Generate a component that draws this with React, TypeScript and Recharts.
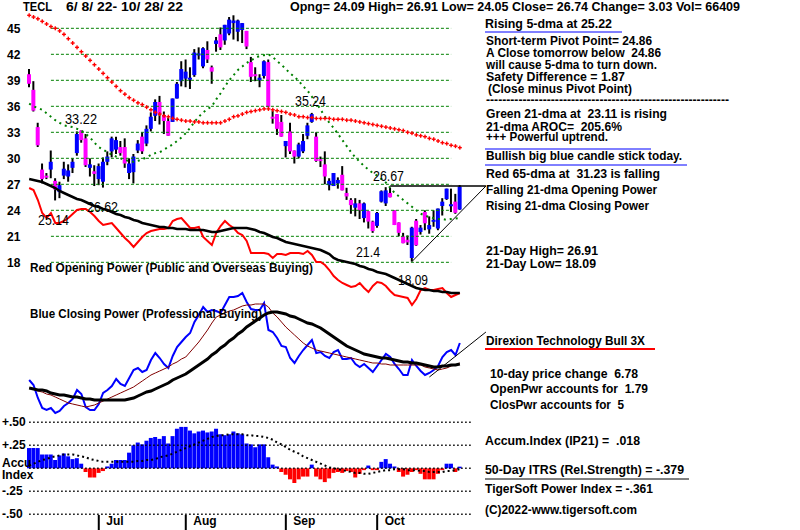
import React from 'react';
import { ComposedChart, Bar, Line, XAxis, YAxis, ReferenceLine, Cell } from 'recharts';

const FONT = '"Liberation Sans", Arial, Helvetica, sans-serif';

// ---------- data ----------
const OPEN = [39.7,37.9,33.6,28.7,28.0,28.7,27.4,26.1,28.0,27.9,
28.9,30.6,33.2,32.3,28.9,28.5,27.6,27.3,29.6,30.8,
31.0,31.3,31.3,28.3,28.4,30.9,32.5,31.7,33.4,34.9,
36.5,35.0,34.3,34.2,36.9,38.9,39.2,39.1,39.6,41.9,
40.6,42.5,40.5,43.2,44.3,43.6,44.4,45.6,44.6,44.8,
44.7,41.1,39.7,39.0,39.5,41.1,34.8,35.1,34.2,31.4,
33.1,30.9,30.2,30.8,32.6,34.2,32.5,29.9,29.3,26.9,
26.8,27.1,28.1,26.0,25.2,24.3,24.8,23.1,23.9,22.7,
22.2,25.0,24.8,26.0,24.0,22.6,21.0,20.6,18.5,22.8,
21.5,23.8,21.8,22.8,21.9,24.5,25.3,24.5,25.0,24.09];
const HIGH = [40.3,38.9,34.1,29.4,28.3,30.9,27.7,27.3,29.6,29.3,
30.0,33.1,33.22,32.8,30.0,29.2,29.4,30.1,30.8,32.5,
32.5,32.0,32.3,30.0,30.5,32.1,33.0,33.8,35.3,36.8,
37.2,35.4,34.7,36.9,38.8,41.2,41.4,40.5,42.6,42.8,
42.8,43.5,40.7,44.0,45.1,45.4,46.3,46.5,46.0,45.6,
44.7,41.7,40.5,39.7,41.3,41.4,35.5,35.1,35.0,32.0,
34.1,30.9,31.8,32.8,34.1,35.24,33.0,30.2,30.8,27.7,
28.3,27.8,29.1,26.6,25.4,25.4,25.2,24.9,23.9,22.8,
23.8,26.3,26.67,26.6,24.0,22.6,21.4,21.1,22.1,23.0,
22.3,24.0,23.3,24.0,24.2,25.4,26.5,26.5,25.9,26.91];
const LOW = [38.2,35.4,31.3,27.1,27.6,27.7,25.14,25.4,27.6,27.3,
28.3,30.3,31.8,29.0,27.9,26.8,26.9,26.62,29.2,30.1,
30.5,30.3,28.9,27.6,27.1,30.6,30.5,31.4,33.1,34.3,
33.9,32.8,32.6,34.2,36.9,38.3,38.2,38.0,39.4,41.4,
40.4,41.0,38.6,42.3,42.5,43.1,44.2,43.7,43.5,43.3,
42.6,38.8,38.9,38.2,39.2,35.9,34.0,32.7,32.5,30.1,
30.5,29.4,30.0,30.6,32.2,34.1,29.6,29.0,27.0,26.3,
26.8,26.5,26.3,25.2,23.6,23.3,23.0,22.6,21.9,21.4,
22.0,24.9,24.5,25.5,22.3,21.0,20.2,20.0,18.09,19.9,
21.2,21.7,21.3,22.1,21.7,23.4,25.2,23.8,23.6,24.05];
const CLOSE = [38.6,35.5,31.5,27.6,27.8,29.6,26.4,26.9,28.8,28.6,
29.6,32.8,32.1,29.2,29.3,28.2,29.1,29.6,30.2,32.3,
32.1,30.6,29.4,29.4,30.2,31.7,30.8,33.4,34.8,36.5,
35.1,34.3,32.6,36.9,38.6,40.3,40.0,39.3,42.2,42.1,
42.7,41.4,40.0,43.6,42.8,45.4,46.0,45.9,45.9,45.6,
42.9,39.4,39.5,39.3,41.2,35.9,34.6,33.4,32.5,32.0,
30.8,30.2,31.6,32.0,33.8,35.1,29.7,29.7,27.9,27.4,
28.3,27.5,26.3,25.6,24.6,24.8,24.0,24.8,22.7,21.6,
23.7,26.2,26.3,25.5,22.3,21.4,20.2,20.3,22.0,19.96,
22.0,22.5,22.3,22.9,24.2,25.0,26.5,24.7,23.71,26.74];
const MA65 = [46.5,46.3,46.1,45.8,45.5,45.2,45.0,44.7,44.3,43.8,
43.3,42.8,42.3,41.8,41.3,40.8,40.3,39.8,39.3,38.8,
38.3,37.8,37.4,37.0,36.7,36.4,36.2,35.9,35.6,35.3,
35.1,34.9,34.8,34.6,34.5,34.4,34.3,34.3,34.2,34.2,
34.1,34.1,34.1,34.1,34.1,34.3,34.5,34.8,34.9,35.1,
35.3,35.4,35.5,35.6,35.7,35.7,35.6,35.5,35.4,35.3,
35.1,35.0,34.8,34.8,34.7,34.7,34.6,34.6,34.6,34.6,
34.5,34.5,34.5,34.4,34.4,34.3,34.2,34.1,34.0,33.9,
33.8,33.7,33.6,33.5,33.4,33.3,33.2,33.0,32.9,32.7,
32.6,32.5,32.3,32.2,32.0,31.8,31.7,31.5,31.4,31.23];
const MA21 = [36.3,36.0,35.8,35.6,35.2,34.8,34.4,34.1,33.8,33.7,
33.6,33.4,33.2,32.8,32.4,31.8,31.3,31.0,30.7,30.4,
30.2,30.0,29.8,29.7,29.6,29.7,29.9,30.1,30.4,30.6,
30.7,31.0,31.3,31.6,32.0,32.4,32.9,33.5,34.2,34.8,
35.3,35.7,36.0,36.8,37.5,38.3,39.0,39.6,40.2,40.6,
41.0,41.3,41.6,41.8,41.9,42.0,41.7,41.2,40.8,40.3,
39.8,39.4,38.9,38.3,37.8,37.1,36.4,35.6,34.8,34.1,
33.5,32.8,32.1,31.4,30.7,30.1,29.6,29.1,28.7,28.3,
28.0,27.6,27.2,26.6,26.0,25.6,25.2,24.8,24.4,24.0,
23.6,23.4,23.2,23.1,23.0,23.0,22.9,23.0,23.05,23.11];
const OPEN_POWER = [212,210,200,187,182,187,177,177,179,182,
186,190,191,191,188,184,179,175,176,177,
172,167,162,158,153,158,163,167,169,170,
171,171,172,179,181,182,177,172,172,173,
163,159,155,167,174,179,175,172,167,165,
159,147,147,147,147,146,142,146,146,145,
147,147,147,146,149,145,138,138,135,130,
124,120,117,115,113,114,117,112,108,114,
118,117,114,109,105,104,103,102,95,101,
110,112,110,110,111,112,107,103,105,107];
const OPEN_POWER_MA = [221,220,219,218,216,214,212,209,207,205,
203,201,200,198,196,194,193,191,190,188,
186,185,183,182,180,179,177,176,175,174,
173,173,172,172,171,171,171,170,170,170,
170,169,168,168,169,170,171,172,172,172,
172,171,170,168,167,165,163,162,160,158,
157,156,155,154,153,152,151,150,148,146,
142,140,139,138,137,136,134,133,131,130,
128,127,126,124,122,120,118,116,114,112,
111,110,110,109,109,108,108,107,107,107];
const CLOSE_POWER = [20,15,2,-8,-10,-8,-13,-11,-6,-3,
1,10,6,-7,-10,-10,-4,7,10,14,
21,16,14,22,30,32,28,30,40,47,
42,36,32,44,53,58,63,67,78,85,
93,88,90,89,87,95,103,103,104,107,
98,91,90,90,97,70,68,62,54,53,
42,37,44,50,55,60,47,48,44,42,
48,50,41,41,42,36,33,36,32,28,
34,40,46,43,36,31,25,25,40,34,
29,25,27,30,34,43,48,50,45,57];
const CLOSE_POWER_FAST = [12,11,9,8,6,5,3,1,-1,-3,
-4,-5,-6,-7,-6,-5,-3,-1,1,3,
5,7,9,11,13,16,19,22,25,27,
29,31,33,36,38,41,43,48,53,58,
64,70,77,83,85,87,89,90,92,94,
95,95,96,96,96,93,87,83,78,73,
69,65,61,57,54,52,50,49,48,47,
46,45,44,43,42,41,40,39,38,37,
37,36,36,35,35,35,35,35,35,35,
35,33,32,31,30,31,32,34,35,37];
const CLOSE_POWER_SLOW = [12,11,10,10,9,7,6,5,5,4,
3,3,2,1,1,0,0,0,0,0,
0,0,0,1,2,4,6,8,9,11,
13,15,17,20,22,24,26,29,32,35,
38,41,45,48,52,55,59,62,66,69,
73,76,79,82,85,87,88,88,87,86,
84,83,81,79,77,76,74,72,69,66,
63,60,57,54,52,50,48,46,45,44,
43,42,42,41,40,39,38,38,37,37,
36,35,34,33,33,34,34,35,35,36];
const ACCUM = [0.22,0.22,0.22,0.15,0.15,0.15,0.09,0.14,0.16,0.13,
0.10,0.11,0.05,-0.04,-0.10,-0.10,-0.05,-0.03,0.02,0.05,
0.09,0.09,0.09,0.17,0.25,0.28,0.26,0.30,0.33,0.34,
0.32,0.35,0.27,0.35,0.43,0.45,0.45,0.41,0.38,0.40,
0.41,0.39,0.40,0.43,0.37,0.36,0.37,0.40,0.38,0.37,
0.27,0.26,0.23,0.26,0.26,0.12,0.04,0.02,-0.04,-0.07,
-0.12,-0.16,-0.12,-0.09,-0.09,0.04,-0.09,-0.12,-0.15,-0.11,
-0.05,-0.04,-0.05,-0.03,-0.04,-0.10,-0.06,-0.02,0.03,-0.02,
-0.02,0.07,0.10,0.05,0.02,-0.04,-0.09,-0.07,-0.04,-0.02,
-0.06,-0.12,-0.12,-0.12,-0.06,-0.02,0.05,0.05,-0.04,0.018];
const ACCUM_MA = [0.03,0.05,0.07,0.09,0.10,0.12,0.13,0.14,0.15,0.15,
0.15,0.14,0.13,0.12,0.10,0.09,0.08,0.07,0.07,0.07,
0.07,0.07,0.07,0.07,0.07,0.08,0.08,0.09,0.09,0.10,
0.12,0.13,0.14,0.16,0.18,0.20,0.22,0.24,0.26,0.28,
0.30,0.32,0.34,0.35,0.36,0.36,0.37,0.37,0.37,0.37,
0.36,0.36,0.35,0.35,0.34,0.33,0.31,0.28,0.26,0.23,
0.20,0.18,0.16,0.13,0.11,0.09,0.07,0.05,0.03,0.01,
0.00,-0.01,-0.02,-0.03,-0.04,-0.05,-0.05,-0.06,-0.06,-0.05,
-0.04,-0.03,-0.02,-0.02,-0.01,-0.01,-0.01,-0.02,-0.02,-0.02,
-0.03,-0.03,-0.04,-0.04,-0.04,-0.04,-0.03,-0.03,-0.02,-0.01];

const MONTH_TICKS = [16, 36, 59, 80];
const MONTH_LABELS = ['Jul', 'Aug', 'Sep', 'Oct'];
const PRICE_TICKS = [45, 42, 39, 36, 33, 30, 27, 24, 21, 18];
const ACCUM_TICKS = [0.5, 0.25, 0, -0.25, -0.5];
const ACCUM_TICK_LABELS = ['+.50', '+.25', 'Accu', '-.25', '-.50'];

const HEADER = [
  { t: 'TECL', x: 23, y: 11, w: 29 },
  { t: '6/ 8/ 22- 10/ 28/ 22', x: 66, y: 11, w: 117 },
  { t: 'Opng= 24.09 High= 26.91 Low= 24.05 Close= 26.74 Change= 3.03 Vol= 66409', x: 290, y: 11, w: 450 },
];
const PANEL_TEXT = [
  { t: 'Rising 5-dma at 25.22', x: 485, y: 28, w: 127 },
  { t: 'Short-term Pivot Point= 24.86', x: 486, y: 45, w: 166 },
  { t: 'A Close tomorrow below  24.86', x: 486, y: 57, w: 175 },
  { t: 'will cause 5-dma to turn down.', x: 486, y: 68.5, w: 171 },
  { t: 'Safety Difference = 1.87', x: 486, y: 80.5, w: 139 },
  { t: '(Close minus Pivot Point)', x: 488, y: 92.5, w: 144 },
  { t: '------------------------------------------------------------', x: 486, y: 104, w: 243 },
  { t: 'Green 21-dma at  23.11 is rising', x: 486, y: 118, w: 181 },
  { t: '21-dma AROC=  205.6%', x: 486, y: 130.5, w: 136 },
  { t: '+++ Powerful uptrend.', x: 486, y: 141, w: 122 },
  { t: 'Bullish big blue candle stick today.', x: 486, y: 159.5, w: 196 },
  { t: 'Red 65-dma at  31.23 is falling', x: 486, y: 178, w: 174 },
  { t: 'Falling 21-dma Opening Power', x: 486, y: 194, w: 171 },
  { t: 'Rising 21-dma Closing Power', x: 486, y: 209.5, w: 163 },
  { t: '21-Day High= 26.91', x: 486, y: 255, w: 112 },
  { t: '21-Day Low= 18.09', x: 486, y: 268, w: 110 },
  { t: 'Direxion Technology Bull 3X', x: 486, y: 344.5, w: 159 },
  { t: '10-day price change  6.78', x: 490, y: 377.5, w: 148 },
  { t: 'OpenPwr accounts for  1.79', x: 490, y: 392.5, w: 158 },
  { t: 'ClosPwr accounts for  5', x: 490, y: 408.5, w: 134 },
  { t: 'Accum.Index (IP21) =  .018', x: 485, y: 444.5, w: 155 },
  { t: '50-Day ITRS (Rel.Strength) = -.379', x: 485, y: 474, w: 199 },
  { t: 'TigerSoft Power Index = -.361', x: 485, y: 493, w: 168 },
  { t: '(C)2022-www.tigersoft.com', x: 485, y: 514, w: 152 },
  { t: 'Red Opening Power (Public and Overseas Buying)', x: 30, y: 272, w: 283 },
  { t: 'Blue Closing Power (Professional Buying)', x: 30, y: 318, w: 232 },
];
const ANNOTATIONS = [
  { t: '33.22', x: 65, y: 124, w: 32 },
  { t: '25.14', x: 38, y: 225, w: 31 },
  { t: '26.62', x: 87, y: 212, w: 31 },
  { t: '35.24', x: 295, y: 106, w: 31 },
  { t: '26.67', x: 373, y: 181, w: 31 },
  { t: '21.4', x: 356, y: 257, w: 24 },
  { t: '18.09', x: 398, y: 285, w: 30 },
];
const UNDERLINES = [
  { x1: 485, x2: 622, y: 32, c: '#0000ff', w: 1 },
  { x1: 485, x2: 651, y: 149, c: '#0000ff', w: 1 },
  { x1: 485, x2: 687, y: 165, c: '#0000ff', w: 1 },
  { x1: 485, x2: 655, y: 349, c: '#ff0000', w: 2 },
  { x1: 485, x2: 689, y: 479, c: '#000000', w: 1 },
];

// ---------- layout constants ----------
const N = 100;
const PAD = 6;
const W = 800;
const H = 530;
const PLOT_LEFT = 27;
const PLOT_W = (N + PAD) * 4.35;
const PRICE_DOMAIN = [45 - (515 - 28.3) / 8.667, 45 + 28.3 / 8.667];
const POWER_DOMAIN = [-115, 400];
const ACCUM_DOMAIN = [(468.3 - 515) / 92, 468.3 / 92];

const rows = Array.from({ length: N + PAD }, (_, i) =>
  i < N
    ? {
        i,
        o: OPEN[i], h: HIGH[i], l: LOW[i], c: CLOSE[i],
        ma65: MA65[i], ma21: MA21[i],
        op: OPEN_POWER[i], opMa: OPEN_POWER_MA[i],
        cp: CLOSE_POWER[i], cpFast: CLOSE_POWER_FAST[i], cpSlow: CLOSE_POWER_SLOW[i],
        ai: ACCUM[i], aiMa: ACCUM_MA[i],
      }
    : { i }
);

const Candle = (props: any) => {
  const { x, y, width, height, payload } = props;
  if (!payload || payload.h == null || height == null) return <g />;
  const { o, h, l, c } = payload;
  const ppu = h - l > 0 ? height / (h - l) : 0;
  const cx = x + width / 2;
  const yO = y + (h - o) * ppu;
  const yC = y + (h - c) * ppu;
  const top = Math.min(yO, yC);
  const bh = Math.max(Math.abs(yO - yC), 2);
  const color = c >= o ? '#0000ff' : '#ff00ff';
  return (
    <g>
      <line x1={cx} x2={cx} y1={y} y2={y + height} stroke="#000" strokeWidth={2} />
      <rect x={cx - 2} y={top} width={4} height={bh} fill={color} />
    </g>
  );
};

const crossDot = (p: any) => {
  if (p.cx == null || p.cy == null || p.value == null) return <g key={p.index} />;
  return (
    <g key={p.index}>
      <rect x={p.cx - 2} y={p.cy - 0.7} width={4} height={1.4} fill="#ff0000" />
      <rect x={p.cx - 0.7} y={p.cy - 2} width={1.4} height={4} fill="#ff0000" />
    </g>
  );
};

const PriceTick = (p: any) => (
  <text x={7} y={p.y + 5} fontSize={12} fontWeight="bold" fontFamily={FONT} fill="#000">
    {p.payload.value}
  </text>
);

const AccumTick = (p: any) => {
  const k = ACCUM_TICKS.indexOf(p.payload.value);
  if (p.payload.value === 0) {
    return (
      <g>
        <text x={2} y={p.y - 1} fontSize={12} fontWeight="bold" fontFamily={FONT} fill="#000">{ACCUM_TICK_LABELS[k]}</text>
        <text x={2} y={p.y + 11} fontSize={12} fontWeight="bold" fontFamily={FONT} fill="#000">Index</text>
      </g>
    );
  }
  return (
    <text x={2} y={p.y + 4} fontSize={12} fontWeight="bold" fontFamily={FONT} fill="#000">
      {ACCUM_TICK_LABELS[k]}
    </text>
  );
};

const MonthTick = (p: any) => {
  const k = MONTH_TICKS.indexOf(p.payload.value);
  return (
    <g>
      <line x1={p.x} x2={p.x} y1={515} y2={530} stroke="#000" strokeWidth={2} />
      <text x={p.x + 7.5} y={525} fontSize={12} fontWeight="bold" fontFamily={FONT} fill="#000">
        {MONTH_LABELS[k]}
      </text>
    </g>
  );
};

const Txt = ({ t, x, y, w, size = 12, weight = 'bold' }: any) => (
  <text x={x} y={y} fontSize={size} fontWeight={weight} fontFamily={FONT} fill="#000"
    textLength={w} lengthAdjust="spacingAndGlyphs" style={{ whiteSpace: 'pre' }}>
    {t}
  </text>
);

export default function App() {
  return (
    <div style={{ position: 'absolute', left: 0, top: 0, width: W, height: H, background: '#fff', overflow: 'hidden' }}>
      <ComposedChart
        width={W}
        height={H}
        data={rows}
        margin={{ top: 0, right: W - PLOT_LEFT - PLOT_W, bottom: 0, left: PLOT_LEFT }}
      >
        <XAxis xAxisId="x" dataKey="i" type="category" ticks={MONTH_TICKS} interval={0}
          tick={MonthTick} axisLine={false} tickLine={false} height={15} />
        <XAxis xAxisId="x2" dataKey="i" type="category" hide />
        <YAxis yAxisId="p" type="number" domain={PRICE_DOMAIN} allowDataOverflow mirror
          ticks={PRICE_TICKS} interval={0} tick={PriceTick} axisLine={false} tickLine={false} />
        <YAxis yAxisId="w" type="number" domain={POWER_DOMAIN} allowDataOverflow hide />
        <YAxis yAxisId="a" type="number" domain={ACCUM_DOMAIN} allowDataOverflow mirror
          ticks={ACCUM_TICKS} interval={0} tick={AccumTick} axisLine={false} tickLine={false} />

        {PRICE_TICKS.map((v) => (
          <ReferenceLine key={'pg' + v} xAxisId="x" yAxisId="p"
            segment={[{ x: 5, y: v }, { x: 97, y: v }]}
            stroke="#008000" strokeWidth={1} strokeDasharray="3 2" ifOverflow="visible" />
        ))}
        {ACCUM_TICKS.map((v) => (
          <ReferenceLine key={'ag' + v} xAxisId="x" yAxisId="a"
            segment={[{ x: 0, y: v }, { x: 102, y: v }]}
            stroke="#000" strokeWidth={1.5} strokeDasharray="1.5 2.5" ifOverflow="visible" />
        ))}

        <Bar xAxisId="x2" yAxisId="a" dataKey="ai" barSize={4} isAnimationActive={false}>
          {rows.map((d: any, k) => (
            <Cell key={k} fill={d.ai != null && d.ai < 0 ? '#ff0000' : '#0000ff'} />
          ))}
        </Bar>
        <Line xAxisId="x" yAxisId="a" dataKey="aiMa" stroke="#000" strokeWidth={2}
          strokeDasharray="2 3" dot={false} isAnimationActive={false} />

        <Line xAxisId="x" yAxisId="p" dataKey="ma65" stroke="none" dot={crossDot}
          activeDot={false} isAnimationActive={false} />
        <Line xAxisId="x" yAxisId="p" dataKey="ma21" stroke="#008000" strokeWidth={2}
          strokeDasharray="2 4" dot={false} isAnimationActive={false} />

        <Line xAxisId="x" yAxisId="w" dataKey="op" stroke="#ff0000" strokeWidth={2}
          dot={false} isAnimationActive={false} />
        <Line xAxisId="x" yAxisId="w" dataKey="opMa" stroke="#000" strokeWidth={2.5}
          dot={false} isAnimationActive={false} />
        <Line xAxisId="x" yAxisId="w" dataKey="cp" stroke="#0000ff" strokeWidth={2}
          dot={false} isAnimationActive={false} />
        <Line xAxisId="x" yAxisId="w" dataKey="cpFast" stroke="#800000" strokeWidth={1}
          dot={false} isAnimationActive={false} />
        <Line xAxisId="x" yAxisId="w" dataKey="cpSlow" stroke="#000" strokeWidth={3}
          dot={false} isAnimationActive={false} />

        <Bar xAxisId="x" yAxisId="p" dataKey={(d: any) => (d.h == null ? null : [d.l, d.h])}
          barSize={4} shape={Candle} isAnimationActive={false} />

        <ReferenceLine xAxisId="x" yAxisId="p" segment={[{ x: 88, y: 18.09 }, { x: 105, y: 26.8 }]}
          stroke="#000" strokeWidth={1} ifOverflow="visible" />
        <ReferenceLine xAxisId="x" yAxisId="p" segment={[{ x: 83, y: 26.8 }, { x: 105, y: 26.8 }]}
          stroke="#000" strokeWidth={1.5} ifOverflow="visible" />
        <ReferenceLine xAxisId="x" yAxisId="w" segment={[{ x: 92, y: 23 }, { x: 105, y: 68 }]}
          stroke="#000" strokeWidth={1} ifOverflow="visible" />
      </ComposedChart>

      <svg width={W} height={H} style={{ position: 'absolute', left: 0, top: 0, pointerEvents: 'none' }}>
        {HEADER.map((d) => <Txt key={d.t} {...d} />)}
        {PANEL_TEXT.map((d) => <Txt key={d.t} {...d} />)}
        {ANNOTATIONS.map((d) => <Txt key={d.t} {...d} size={14} weight="normal" />)}
        {UNDERLINES.map((u, k) => (
          <line key={k} x1={u.x1} x2={u.x2} y1={u.y} y2={u.y} stroke={u.c} strokeWidth={u.w} />
        ))}
      </svg>
    </div>
  );
}
